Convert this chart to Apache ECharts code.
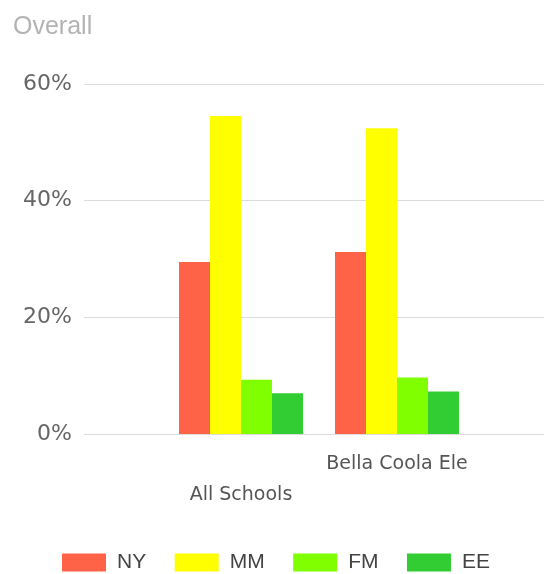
<!DOCTYPE html>
<html>
<head>
<meta charset="utf-8">
<script src="https://cdn.jsdelivr.net/npm/echarts@6/dist/echarts.min.js"></script>
<style>html,body{margin:0;padding:0;background:#fff}#c{width:544px;height:574px}</style>
</head>
<body>
<div id="c"></div>
<script>
const categories = ['All Schools', 'Bella Coola Ele'];
const seriesNames = ['NY', 'MM', 'FM', 'EE'];
const NY = [29.5, 31.2];
const MM = [54.5, 52.4];
const FM = [9.3, 9.7];
const EE = [7.0, 7.3];
const yTicks = [0, 20, 40, 60];
const colors = ['#ff6347', '#ffff00', '#7fff00', '#32cd32'];
const values = [NY, MM, FM, EE];

const font = '"Liberation Sans", Arial, sans-serif';
const wide = '"DejaVu Sans", sans-serif';
const chart = echarts.init(document.getElementById('c'));
chart.setOption({
  animation: false,
  title: {
    text: 'Overall', left: 8, top: 10,
    textStyle: { fontFamily: font, fontSize: 25, fontWeight: 'normal', color: '#b3b3b3' }
  },
  legend: {
    data: seriesNames, left: 62, top: 552, padding: 0, icon: 'rect',
    itemWidth: 44, itemHeight: 18, itemGap: 28.5,
    textStyle: { fontFamily: font, fontSize: 21, color: '#444', padding: [0, 0, 0, 6] }
  },
  grid: [
    { left: 84, right: 0, top: 84, height: 350 },
    { left: 163, width: 312, top: 84, height: 350 }
  ],
  xAxis: [
    { gridIndex: 0, type: 'value', show: false, min: 0, max: 1 },
    {
      gridIndex: 1, type: 'category', data: categories,
      axisLine: { show: false }, axisTick: { show: false },
      axisLabel: {
        interval: 0, margin: 15, fontFamily: wide, fontSize: 19, color: '#555', lineHeight: 31,
        formatter: (v, i) => (i % 2 === 0 ? '\n' + v : v)
      }
    }
  ],
  yAxis: [
    {
      gridIndex: 0, type: 'value', min: yTicks[0], max: yTicks[yTicks.length - 1], interval: 20,
      axisLine: { show: false }, axisTick: { show: false },
      axisLabel: { margin: 12, fontFamily: wide, fontSize: 22, color: '#666', formatter: '{value}%' },
      splitLine: { lineStyle: { color: '#dcdcdc', width: 1 } }
    },
    {
      gridIndex: 1, type: 'value', min: yTicks[0], max: yTicks[yTicks.length - 1], interval: 20,
      show: false, splitLine: { show: false }
    }
  ],
  series: seriesNames.map((n, k) => ({
    name: n, type: 'bar', xAxisIndex: 1, yAxisIndex: 1,
    data: values[k], barWidth: 31, barGap: '0%',
    itemStyle: { color: colors[k] }
  }))
});
</script>
</body>
</html>
